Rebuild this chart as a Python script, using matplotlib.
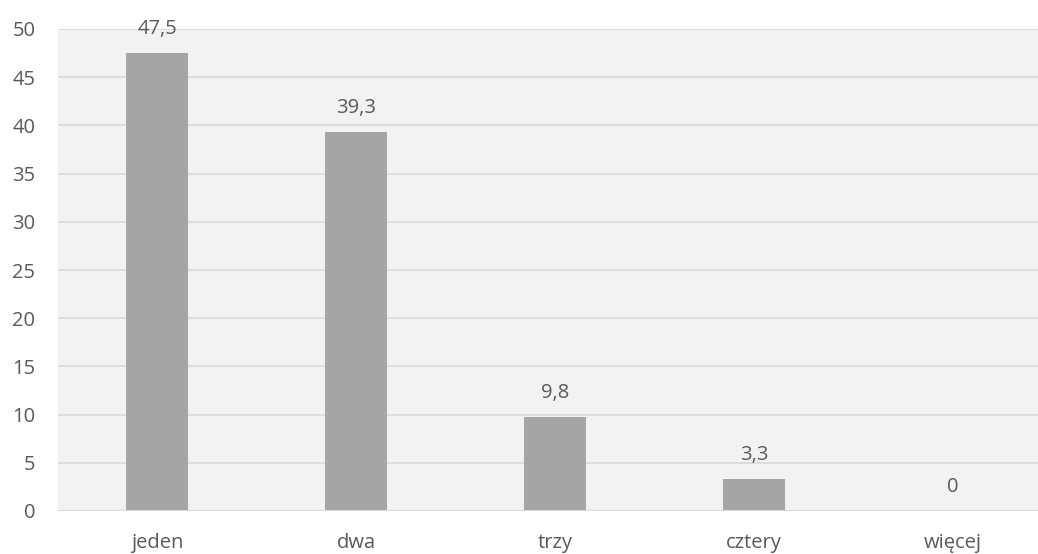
import matplotlib.pyplot as plt
import numpy as np

categories = ["jeden", "dwa", "trzy", "cztery", "więcej"]
values = [47.5, 39.3, 9.8, 3.3, 0]
labels = ["47,5", "39,3", "9,8", "3,3", "0"]

plt.rcParams["font.family"] = ["Open Sans", "DejaVu Sans"]
txt = "#595959"

fig = plt.figure(figsize=(10.38, 5.54), dpi=100)
ax = fig.add_axes([57.5 / 1038, 43 / 554, 1 - 57.5 / 1038, 482 / 554])
ax.set_facecolor("#F2F2F2")

x = np.arange(len(categories))
bars = ax.bar(x, values, width=0.31, color="#A5A5A5", zorder=3)

for xi, v, lab in zip(x, values, labels):
    ax.annotate(lab, (xi, v), xytext=(0, 10), textcoords="offset points",
                ha="center", va="bottom", fontsize=14.5, color=txt)

ax.set_xlim(-0.5, 4.427)
ax.set_ylim(0, 50)
ax.set_yticks(range(0, 51, 5))
ax.set_xticks(x)
ax.set_xticklabels(categories)
ax.yaxis.grid(True, color="#D9D9D9", linewidth=1.2, zorder=0)
ax.tick_params(length=0, labelsize=14.5, labelcolor=txt)
ax.tick_params(axis="y", pad=16)
ax.tick_params(axis="x", pad=16)
for s in ax.spines.values():
    s.set_visible(False)
ax.axhline(0, color="#D9D9D9", linewidth=1.5, zorder=4)

fig.savefig("out.png", dpi=100)
